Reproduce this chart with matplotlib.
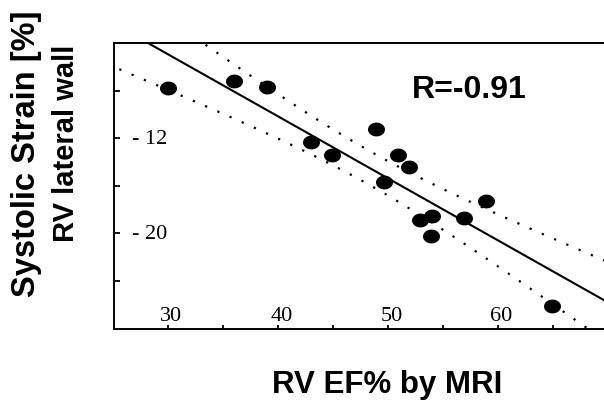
import numpy as np
import matplotlib
matplotlib.use("Agg")
import matplotlib.pyplot as plt
import matplotlib.transforms as mtransforms

# datos
ef_mri = [30.0, 36.0, 39.0, 43.0, 44.9, 48.9, 49.6, 50.9, 51.9, 52.9, 54.0, 53.9, 56.9, 58.9, 64.9]
strain = [-7.8, -7.15, -7.7, -12.3, -13.4, -11.2, -15.7, -13.4, -14.4, -18.9, -18.5, -20.2, -18.7, -17.25, -26.1]

# recta de regresion y banda de confianza
slope = -0.523
intercept = 10.77
band_x0 = 48.4
band_a = 2.05
band_b = 0.0205

x_ticks = [30, 35, 40, 45, 50, 55, 60, 65]
x_labels = ["30", "40", "50", "60"]
x_label_pos = [30, 40, 50, 60]
y_ticks = [-8, -12, -16, -20, -24]
y_labels = ["- 12", "- 20"]
y_label_pos = [-12, -20]
r_text = "R=-0.91"

fig = plt.figure(figsize=(6.04, 4.02), dpi=100)
ax = fig.add_axes([114 / 604, 1 - 330 / 402, 490 / 604, 286 / 402])

# puntos elipticos
t = np.linspace(0, 2 * np.pi, 60)
ell = np.c_[np.cos(t), 0.8 * np.sin(t)]
ax.plot(ef_mri, strain, linestyle="none", marker=ell, markersize=11.2,
        color="black", zorder=3)

xx = np.linspace(20, 75, 300)
yy = intercept + slope * xx
hw = np.sqrt(band_a + band_b * (xx - band_x0) ** 2)
ax.plot(xx, yy, color="black", lw=1.5)
ax.plot(xx, yy + hw, color="black", lw=1.6, linestyle=(0, (1, 5)))
ax.plot(xx, yy - hw, color="black", lw=1.6, linestyle=(0, (1, 5)))

ax.set_xlim(25.1, 69.6)
ax.set_ylim(-28.06, -3.97)

ax.spines["right"].set_visible(False)
for s in ["left", "bottom", "top"]:
    ax.spines[s].set_linewidth(1.4)

ax.set_xticks(x_ticks)
ax.set_yticks(y_ticks)
ax.tick_params(axis="x", direction="in", length=3, width=1.3, labelbottom=False)
ax.tick_params(axis="y", direction="in", length=4, width=1.3, labelleft=False)

serif = "Liberation Serif"
trx = mtransforms.blended_transform_factory(ax.transData, ax.transAxes)
for xv, lab in zip(x_label_pos, x_labels):
    ax.text(xv + 0.3, 0.015, lab, transform=trx, ha="center", va="bottom",
            fontsize=16, family=serif)
tr_y = mtransforms.blended_transform_factory(ax.transAxes, ax.transData)
for yv, lab in zip(y_label_pos, y_labels):
    ax.text(0.037, yv, lab, transform=tr_y, ha="left", va="center",
            fontsize=16, family=serif)

ax.text(52.15, -8.55, r_text, ha="left", va="baseline", fontsize=23,
        family="Liberation Sans", fontweight="bold")

fig.text(387 / 604, 1 - 392.7 / 402, "RV EF% by MRI", ha="center", va="baseline",
         fontsize=22.5, family="Liberation Sans", fontweight="bold")
fig.text(27 / 604, 1 - 153.5 / 402, "Systolic Strain [%]", rotation=90,
         ha="center", va="center", fontsize=23.5, family="Liberation Sans",
         fontweight="bold")
fig.text(66 / 604, 1 - 143.5 / 402, "RV lateral wall", rotation=90,
         ha="center", va="center", fontsize=21, family="Liberation Sans",
         fontweight="bold")

fig.savefig("out.png", dpi=100)
